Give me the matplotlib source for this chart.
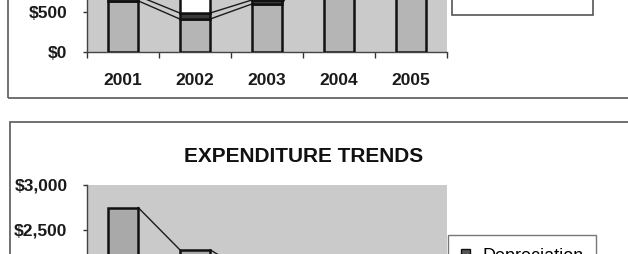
import matplotlib.pyplot as plt
import numpy as np
from matplotlib.patches import Rectangle, Patch

years = ["2001", "2002", "2003", "2004", "2005"]

# upper chart (only its bottom is on the page)
top_base = [640, 412, 600, 1500, 1650]
top_mid = [60, 75, 50, 90, 80]
top_upper = [650, 480, 700, 400, 450]

# lower chart (only its top is on the page)
exp_base = [1900, 1500, 1300, 1100, 950]
exp_dep = [850, 780, 700, 650, 600]

plt.rcParams["font.family"] = ["Liberation Sans", "DejaVu Sans"]

W, H = 628, 254
fig = plt.figure(figsize=(W / 100, H / 100), dpi=100)


def fx(px):
    return px / W


def fy(py):
    return 1 - py / H


bar_w = 0.42
x = np.arange(len(years))
yvals = list(range(0, 3001, 500))


def style_axes(ax, ylabels_shown, xlabels_shown):
    ax.set_facecolor("#cacaca")
    ax.set_xlim(-0.5, len(years) - 0.5)
    ax.set_ylim(0, 3000)
    ax.set_yticks(yvals)
    ax.set_yticklabels(["${:,}".format(v) if v in ylabels_shown else "" for v in yvals])
    ax.set_xticks(x)
    ax.set_xticklabels(years if xlabels_shown else [""] * len(years))
    ax.set_xticks(np.arange(-0.5, len(years)), minor=True)
    ax.tick_params(axis="x", which="major", length=0, pad=15)
    ax.tick_params(axis="x", which="minor", length=4, width=1, color="#333333")
    ax.tick_params(axis="y", length=3, width=1, color="#333333", pad=11)
    for lab in ax.get_xticklabels() + ax.get_yticklabels():
        lab.set_fontsize(12.5)
        lab.set_fontweight("bold")
        lab.set_color("#1a1a1a")
    for s in ["top", "right"]:
        ax.spines[s].set_visible(False)
    for s in ["left", "bottom"]:
        ax.spines[s].set_color("#444444")
        ax.spines[s].set_linewidth(1)


def series_lines(ax, tops):
    for i in range(len(tops) - 1):
        ax.plot([x[i] + bar_w / 2, x[i + 1] - bar_w / 2], [tops[i], tops[i + 1]],
                color="#1a1a1a", lw=1, zorder=2)


# frames of the two chart objects
fig.patches.append(Rectangle((fx(8), fy(98)), 1.2, 1.0, transform=fig.transFigure,
                             fill=False, edgecolor="#666666", lw=1.3))
fig.patches.append(Rectangle((fx(10), fy(122) - 1.2), 1.2, 1.2, transform=fig.transFigure,
                             fill=False, edgecolor="#666666", lw=1.3))

# ---- upper chart ----
ax1 = fig.add_axes([fx(87), fy(52), 360 / W, 240 / H])
style_axes(ax1, [0, 500], True)
ax1.bar(x, top_base, bar_w, color="#b5b5b5", edgecolor="#111111", lw=1.8, zorder=3)
ax1.bar(x, top_mid, bar_w, bottom=top_base, color="#3a3a3a", edgecolor="#111111",
        lw=1.8, zorder=3)
mid_tops = [a + b for a, b in zip(top_base, top_mid)]
ax1.bar(x, top_upper, bar_w, bottom=mid_tops, color="white", edgecolor="#111111",
        lw=1.8, zorder=3)
series_lines(ax1, top_base)
series_lines(ax1, mid_tops)
series_lines(ax1, [a + b for a, b in zip(mid_tops, top_upper)])

# legend box of the upper chart, its entries are above the page
fig.patches.append(Rectangle((fx(452), fy(15)), fx(593) - fx(452), 0.5,
                             transform=fig.transFigure, facecolor="white",
                             edgecolor="#555555", lw=1.2))

# ---- lower chart ----
ax2 = fig.add_axes([fx(87), fy(455), 360 / W, 270 / H])
style_axes(ax2, [2500, 3000], False)
ax2.bar(x, exp_base, bar_w, color="#b0b0b0", edgecolor="#111111", lw=1.8, zorder=3)
ax2.bar(x, exp_dep, bar_w, bottom=exp_base, color="#a9a9a9", edgecolor="#111111",
        lw=1.8, zorder=3)
series_lines(ax2, exp_base)
series_lines(ax2, [a + b for a, b in zip(exp_base, exp_dep)])

fig.text(fx(304), fy(157), "EXPENDITURE TRENDS", ha="center", va="center",
         fontsize=15, fontweight="bold", color="#111111")

fig.legend([Patch(facecolor="#555555", edgecolor="#111111")], ["Depreciation"],
           loc="upper left", bbox_to_anchor=(fx(448), fy(235)), borderaxespad=0,
           fancybox=False, edgecolor="#555555", fontsize=13, borderpad=0.7,
           handlelength=0.5, handleheight=0.5, handletextpad=0.7)

fig.savefig("out.png", dpi=100)
